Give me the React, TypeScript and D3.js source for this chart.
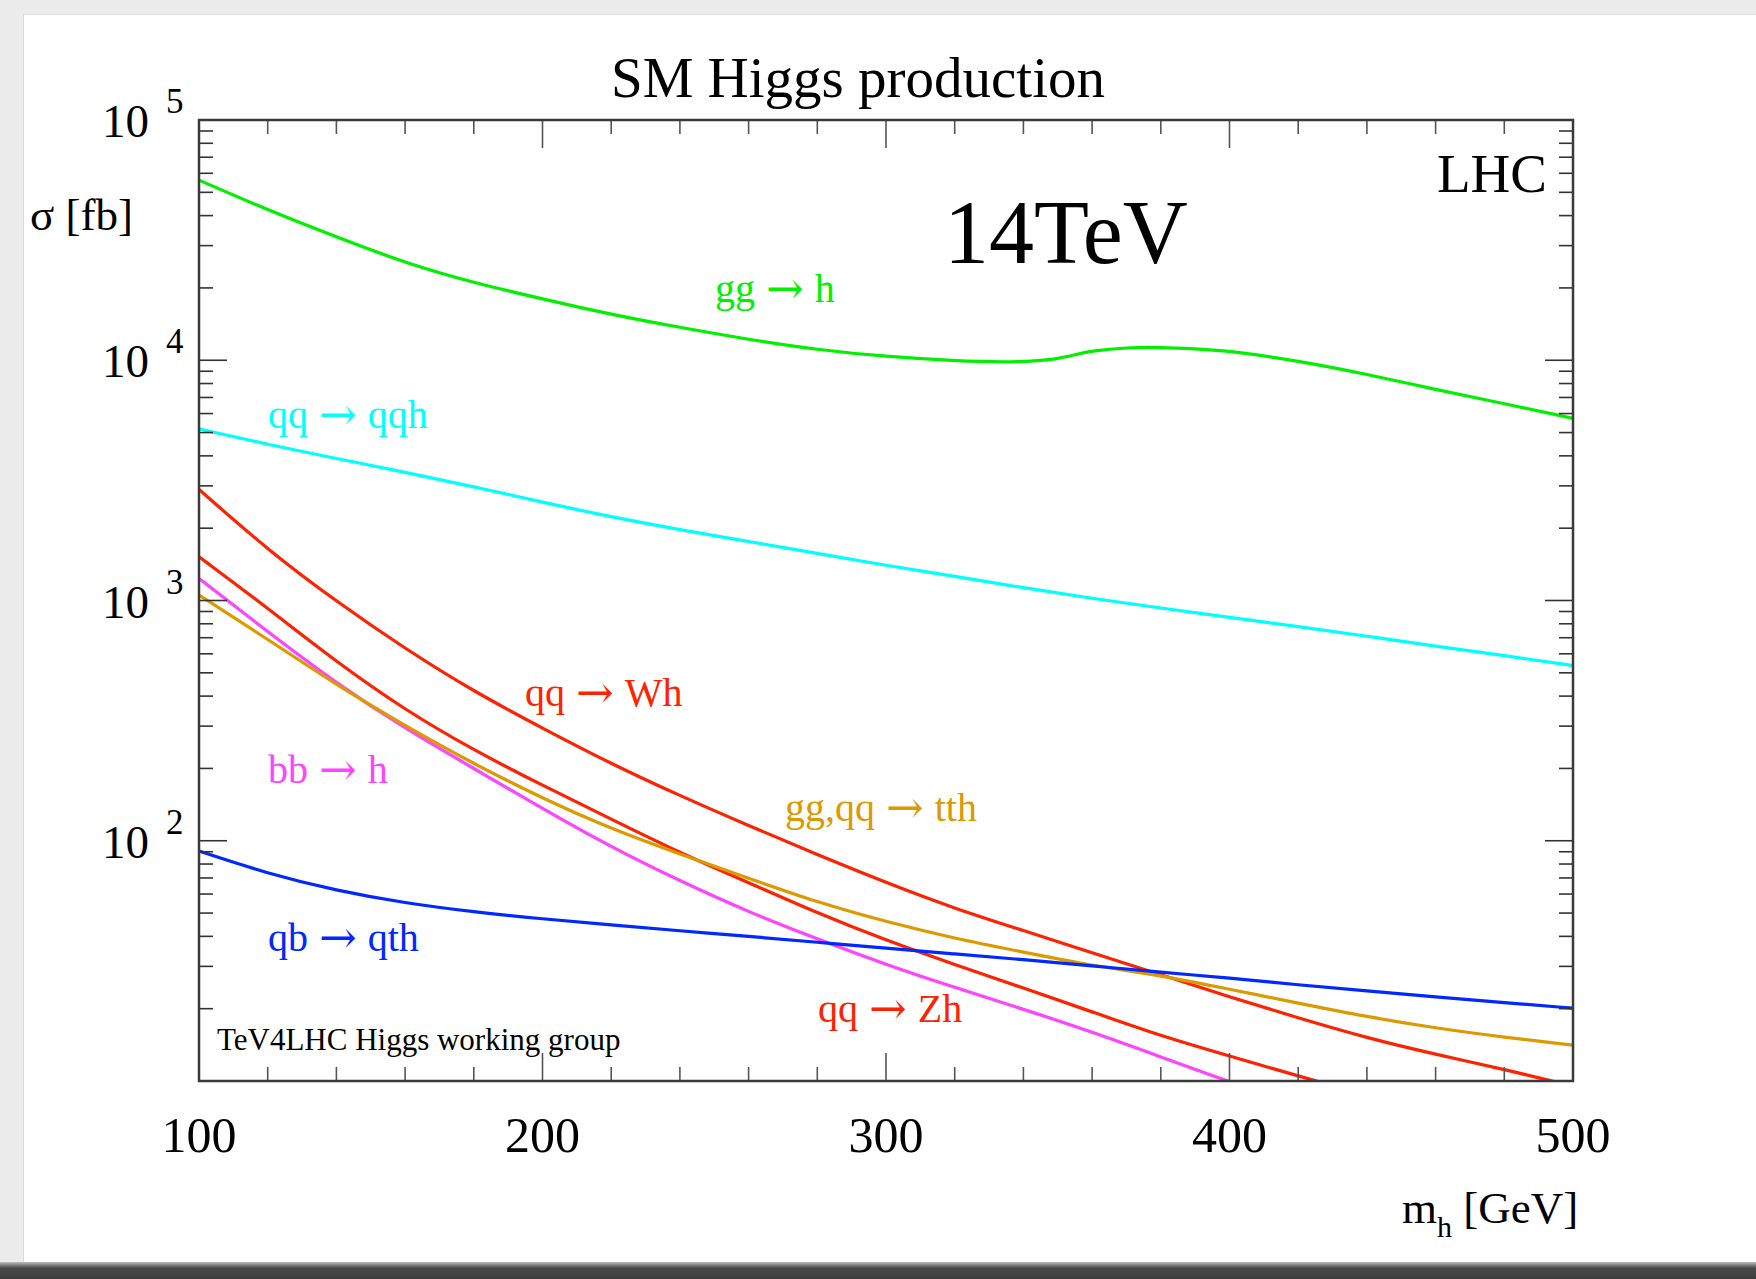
import React from 'react';
import * as d3 from 'd3';

const W = 1756;
const H = 1279;

// Higgs mass grid [GeV]
const MASS = [100, 120, 140, 160, 180, 200, 220, 240, 260, 280, 300, 320, 340, 360, 380, 400, 420, 440, 460, 480, 500];
const GG_MASS = [100, 120, 140, 160, 180, 200, 220, 240, 260, 280, 300, 320, 335, 345, 350, 355, 360, 370, 380, 390, 400, 420, 440, 460, 480, 500];

// cross sections [fb]
const GG_XS = [56200, 42200, 32600, 25400, 21000, 18000, 15500, 13700, 12200, 11050, 10350, 9950, 9800, 9960, 10150, 10550, 10950, 11300, 11330, 11150, 10950, 9950, 8750, 7550, 6600, 5730];
const QQH_XS = [5180, 4460, 3900, 3420, 2980, 2560, 2230, 1970, 1760, 1570, 1400, 1260, 1130, 1020, 930, 850, 780, 710, 645, 590, 536];
const WH_XS = [2900, 1625, 990, 630, 418, 294, 209, 154, 115.6, 87.5, 67, 52.2, 42.3, 34.2, 27.7, 22.4, 18.3, 15.1, 12.9, 11.2, 9.5];
const ZH_XS = [1520, 930, 555, 350, 238, 170, 123, 89, 67, 50, 38.5, 30.5, 24.4, 19.4, 15.4, 12.7, 10.5, 8.7, 7.3, 6.2, 5.2];
const BBH_XS = [1236, 740, 452, 293, 200, 136, 94, 68, 50.5, 39, 30.5, 24.5, 19.9, 16.0, 12.6, 9.9, 8.0, 6.5, 5.3, 4.3, 3.5];
const TTH_XS = [1054, 690, 445, 301, 209, 150, 112, 88, 69.8, 55.4, 46, 39.2, 34.4, 30.2, 27.5, 24.1, 21.1, 18.5, 16.6, 15.2, 14.1];
const QTH_XS = [90.6, 73, 62, 55, 50.5, 47.3, 44.6, 42.2, 40, 37.8, 35.7, 33.8, 32, 30.2, 28.3, 26.9, 25.1, 23.7, 22.4, 21.2, 20.1];

const X_TICK_LABELS = [100, 200, 300, 400, 500];
const Y_EXPONENTS = [2, 3, 4, 5];

const FONT = '"Liberation Serif", "Times New Roman", Times, serif';
const ARROW_FONT = '"DejaVu Serif", "DejaVu Sans", serif';

const PL = 199, PR = 1573, PT = 120, PB = 1081;

function Label({ x, y, color, lhs, rhs }: { x: number; y: number; color: string; lhs: string; rhs: string }) {
  return (
    <text x={x} y={y} fontSize={40} fill={color} fontFamily={FONT}>
      {lhs}
      <tspan dx={11} dy={2} fontFamily={ARROW_FONT} fontSize={45} fontWeight={200}>→</tspan>
      <tspan dx={11} dy={-2}>{rhs}</tspan>
    </text>
  );
}

export default function App() {
  const x = d3.scaleLinear().domain([100, 500]).range([PL, PR]);
  const y = d3.scaleLog().domain([10, 1e5]).range([PB, PT]);

  const line = d3
    .line<[number, number]>()
    .x((d) => x(d[0]))
    .y((d) => y(d[1]))
    .curve(d3.curveBasis);

  const zip = (ms: number[], vs: number[]) => ms.map((m, i) => [m, vs[i]] as [number, number]);

  const series = [
    { key: 'gg', pts: zip(GG_MASS, GG_XS), color: '#00f000' },
    { key: 'qqh', pts: zip(MASS, QQH_XS), color: '#00ffff' },
    { key: 'wh', pts: zip(MASS, WH_XS), color: '#ff2200' },
    { key: 'zh', pts: zip(MASS, ZH_XS), color: '#ff2200' },
    { key: 'bbh', pts: zip(MASS, BBH_XS), color: '#ff44ff' },
    { key: 'tth', pts: zip(MASS, TTH_XS), color: '#dd9900' },
    { key: 'qth', pts: zip(MASS, QTH_XS), color: '#0028ff' },
  ];

  const xTicks = d3.range(120, 500, 20).map((m) => ({ m, major: m % 100 === 0 }));
  const yTicks: { v: number; major: boolean }[] = [];
  for (let k = 1; k <= 4; k++) {
    for (let d = 1; d <= 9; d++) {
      const v = d * Math.pow(10, k);
      if (v === 10) continue;
      yTicks.push({ v, major: d === 1 });
    }
  }

  const axisColor = '#3a3a3a';
  const tickColor = '#555';
  const minorLen = 14;
  const majorLen = 28;

  return (
    <svg
      width={W}
      height={H}
      viewBox={`0 0 ${W} ${H}`}
      style={{ position: 'absolute', left: 0, top: 0, display: 'block' }}
      fontFamily={FONT}
    >
      <defs>
        <clipPath id="plotClip">
          <rect x={PL} y={PT} width={PR - PL} height={PB - PT} />
        </clipPath>
        <linearGradient id="shadow" x1="0" y1="0" x2="0" y2="1">
          <stop offset="0" stopColor="#bdbdbd" />
          <stop offset="0.35" stopColor="#4a4a4a" />
          <stop offset="1" stopColor="#3c3c3c" />
        </linearGradient>
      </defs>

      {/* paper background */}
      <rect x={0} y={0} width={W} height={H} fill="#ececec" />
      <rect x={23} y={14} width={W - 23} height={1250} fill="#ffffff" />
      <line x1={23.5} y1={14} x2={23.5} y2={1264} stroke="#dcdcdc" strokeWidth={1} />
      <line x1={23} y1={14.5} x2={W} y2={14.5} stroke="#e0e0e0" strokeWidth={1} />
      <rect x={0} y={1262} width={W} height={17} fill="url(#shadow)" />

      {/* title */}
      <text x={858} y={97} fontSize={57} textAnchor="middle" fill="#000">
        SM Higgs production
      </text>

      {/* curves */}
      <g clipPath="url(#plotClip)">
        {series.map((s) => (
          <path
            key={s.key}
            d={line(s.pts) || ''}
            fill="none"
            stroke={s.color}
            strokeWidth={3.2}
            strokeLinejoin="round"
          />
        ))}
      </g>

      {/* ticks */}
      <g stroke={tickColor} strokeWidth={1.6}>
        {xTicks.map((t) => {
          const len = t.major ? majorLen : minorLen;
          return (
            <g key={`xt${t.m}`}>
              <line x1={x(t.m)} x2={x(t.m)} y1={PT} y2={PT + len} />
              <line x1={x(t.m)} x2={x(t.m)} y1={PB} y2={PB - len} />
            </g>
          );
        })}
        {yTicks.map((t) => {
          const len = t.major ? majorLen : minorLen;
          const yy = y(t.v);
          return (
            <g key={`yt${t.v}`}>
              <line x1={PL} x2={PL + len} y1={yy} y2={yy} stroke="#333" />
              <line x1={PR} x2={PR - len} y1={yy} y2={yy} stroke="#333" />
            </g>
          );
        })}
      </g>

      {/* frame */}
      <rect
        x={PL}
        y={PT}
        width={PR - PL}
        height={PB - PT}
        fill="none"
        stroke={axisColor}
        strokeWidth={2.5}
      />

      {/* x tick labels */}
      {X_TICK_LABELS.map((m) => (
        <text key={`xl${m}`} x={x(m)} y={1152} fontSize={50} textAnchor="middle" fill="#000">
          {m}
        </text>
      ))}

      {/* y tick labels */}
      {Y_EXPONENTS.map((e) => {
        const yy = y(Math.pow(10, e));
        return (
          <g key={`yl${e}`}>
            <text x={149} y={yy + 17} fontSize={47} textAnchor="end" fill="#000">
              10
            </text>
            <text x={166} y={yy - 7} fontSize={35} fill="#000">
              {e}
            </text>
          </g>
        );
      })}

      {/* axis titles */}
      <text x={30} y={230} fontSize={45} fill="#000">
        σ [fb]
      </text>
      <text x={1402} y={1223} fontSize={45} fill="#000">
        m
        <tspan fontSize={30} dy={14}>h</tspan>
        <tspan fontSize={45} dy={-14}> [GeV]</tspan>
      </text>

      {/* annotations */}
      <text x={1547} y={192} fontSize={55} textAnchor="end" fill="#000">
        LHC
      </text>
      <text x={944} y={263} fontSize={90} fill="#000">
        14TeV
      </text>
      <text x={217} y={1050} fontSize={31} fill="#000">
        TeV4LHC Higgs working group
      </text>

      {/* curve labels */}
      <Label x={715} y={302} color="#00f000" lhs="gg" rhs="h" />
      <Label x={268} y={428} color="#00ffff" lhs="qq" rhs="qqh" />
      <Label x={525} y={706} color="#ff2200" lhs="qq" rhs="Wh" />
      <Label x={785} y={821} color="#dd9900" lhs="gg,qq" rhs="tth" />
      <Label x={268} y={783} color="#ff44ff" lhs="bb" rhs="h" />
      <Label x={268} y={951} color="#0028ff" lhs="qb" rhs="qth" />
      <Label x={818} y={1022} color="#ff2200" lhs="qq" rhs="Zh" />
    </svg>
  );
}
